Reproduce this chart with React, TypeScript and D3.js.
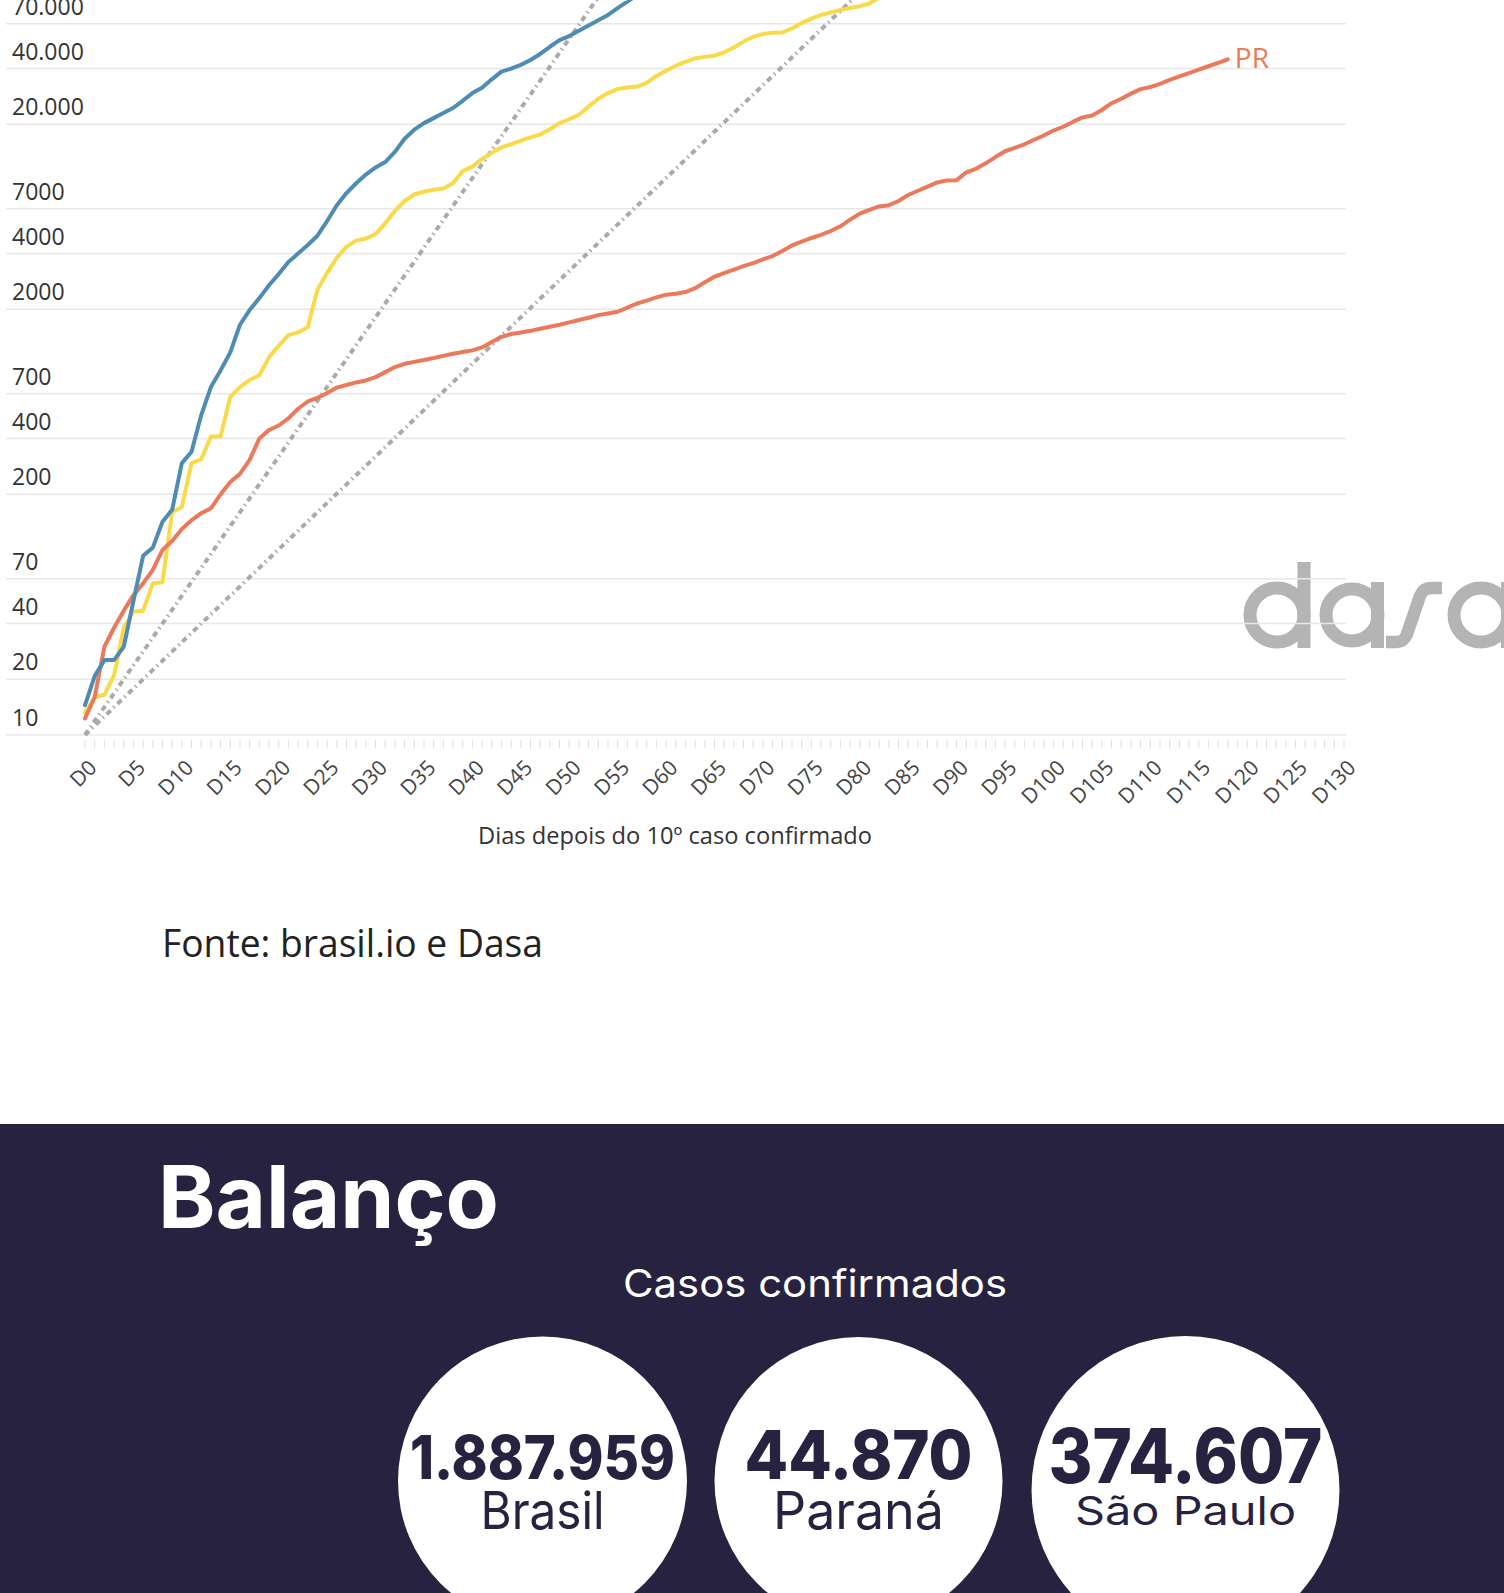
import { useEffect, useRef } from 'react';
import * as d3 from 'd3';

const W = 1504;
const H = 1593;

// eixo Y (log) e eixo X
const yTickValues = [10, 20, 40, 70, 200, 400, 700, 2000, 4000, 7000, 20000, 40000, 70000];
const yTickLabels = ['10', '20', '40', '70', '200', '400', '700', '2000', '4000', '7000', '20.000', '40.000', '70.000'];
const xTickDays = [0, 5, 10, 15, 20, 25, 30, 35, 40, 45, 50, 55, 60, 65, 70, 75, 80, 85, 90, 95, 100, 105, 110, 115, 120, 125, 130];
const xTickLabels = ['D0', 'D5', 'D10', 'D15', 'D20', 'D25', 'D30', 'D35', 'D40', 'D45', 'D50', 'D55', 'D60', 'D65', 'D70', 'D75', 'D80', 'D85', 'D90', 'D95', 'D100', 'D105', 'D110', 'D115', 'D120', 'D125', 'D130'];

// casos acumulados por dia (D0, D1, ...)
const prValues = [
  12.3, 16, 30, 38, 47, 57, 66, 78, 100, 112,
  130, 145, 158, 168, 200, 233, 258, 307, 400, 445,
  471, 515, 580, 635, 665, 705, 755, 780, 805, 825,
  860, 915, 975, 1015, 1040, 1065, 1090, 1120, 1150, 1175,
  1200, 1245, 1330, 1420, 1470, 1500, 1530, 1570, 1610, 1650,
  1700, 1750, 1800, 1860, 1900, 1940, 2040, 2150, 2230, 2320,
  2400, 2430, 2480, 2600, 2800, 3000, 3140, 3280, 3420, 3550,
  3720, 3880, 4130, 4430, 4650, 4860, 5050, 5300, 5620, 6100,
  6580, 6900, 7200, 7300, 7700, 8300, 8750, 9200, 9700, 9950,
  9980, 11000, 11500, 12300, 13300, 14300, 14900, 15600, 16500, 17400,
  18500, 19400, 20600, 21800, 22300, 23900, 26000, 27500, 29300, 31000,
  31800, 33100, 34800, 36300, 37800, 39500, 41200, 43000, 44870,
];
const blueValues = [
  14.5, 20.8, 25.4, 25.4, 30, 53, 93, 103, 142, 165,
  295, 340, 536, 760, 935, 1170, 1650, 1980, 2300, 2700,
  3100, 3600, 4000, 4450, 5000, 6000, 7300, 8500, 9600, 10700,
  11700, 12500, 14200, 16700, 18700, 20300, 21600, 23000, 24500, 26800,
  29500, 31500, 35000, 38500, 40000, 41900, 44500, 48000, 52500, 57000,
  60000, 64000, 68500, 73000, 78000, 85000, 92000, 100000, 108000,
];
const yellowValues = [
  13.2, 16, 16.5, 21, 38, 46.5, 47, 66, 67, 160,
  171, 295, 310, 411, 411, 673, 760, 830, 880, 1100,
  1270, 1450, 1500, 1600, 2550, 3150, 3800, 4350, 4700, 4830,
  5100, 5830, 6800, 7700, 8350, 8650, 8850, 9000, 9600, 11200,
  11800, 13000, 14000, 15000, 15600, 16300, 17000, 17600, 18800, 20300,
  21300, 22500, 25000, 27500, 29500, 31000, 31600, 32000, 33500, 36500,
  39000, 41500, 43500, 45500, 46300, 47000, 49000, 52000, 56000, 59500,
  61500, 62500, 62800, 66000, 70500, 74500, 78000, 80500, 83000, 85000,
  87000, 90000, 97000, 104000,
];

// linhas de referência (duplica a cada 4 e a cada 6 dias)
const ref4Days = [0, 56];
const ref4Values = [10, 164000];
const ref6Days = [0, 84];
const ref6Values = [10, 164000];

// balanço
const balancoNumbers = ['1.887.959', '44.870', '374.607'];
const balancoNames = ['Brasil', 'Paraná', 'São Paulo'];

const BLUE = '#4e8cb3';
const YELLOW = '#f9da4a';
const ORANGE = '#ea7a5b';
const NAVY = '#27223f';
const LOGO = '#b4b4b4';
const CHART_FONT = '"Open Sans", sans-serif';
const PANEL_FONT = 'Inter, sans-serif';

const App = () => {
  const svgRef = useRef<SVGSVGElement | null>(null);

  useEffect(() => {
    const svg = d3.select(svgRef.current);
    svg.selectAll('*').remove();

    const x = d3.scaleLinear().domain([0, 130]).range([85, 1344]);
    const y = d3.scaleLog().domain([10, 100000]).range([735, -5]);

    svg.append('rect').attr('width', W).attr('height', H).attr('fill', '#fff');

    // logo dasa (marca d'água, fica por baixo da grade)
    const logo = svg.append('g').attr('fill', 'none').attr('stroke', LOGO).attr('stroke-width', 13);
    logo.append('circle').attr('cx', 1277).attr('cy', 615).attr('r', 27);
    logo.append('rect').attr('x', 1297.5).attr('y', 562).attr('width', 13).attr('height', 86)
      .attr('fill', LOGO).attr('stroke', 'none');
    logo.append('circle').attr('cx', 1352).attr('cy', 615).attr('r', 26);
    logo.append('rect').attr('x', 1371).attr('y', 582).attr('width', 13).attr('height', 66)
      .attr('fill', LOGO).attr('stroke', 'none');
    logo.append('path').attr('stroke-width', 12.5)
      .attr('d', 'M1386,642 L1397,642 C1403,642 1405,639 1407,634 L1420,596 C1422,591 1425,588 1431,588 L1442,588');
    logo.append('circle').attr('cx', 1481).attr('cy', 615).attr('r', 27);
    logo.append('rect').attr('x', 1501).attr('y', 582).attr('width', 13).attr('height', 66)
      .attr('fill', LOGO).attr('stroke', 'none');

    // grade
    const grid = svg.append('g');
    yTickValues.forEach((v, i) => {
      grid.append('line')
        .attr('x1', 6).attr('x2', 1346)
        .attr('y1', y(v)).attr('y2', y(v))
        .attr('stroke', '#e8e8e8').attr('stroke-width', 1.5);
      grid.append('text')
        .attr('x', 12).attr('y', y(v) - 9)
        .attr('font-family', CHART_FONT).attr('font-size', 23)
        .attr('fill', '#333')
        .text(yTickLabels[i]);
    });

    // ticks diários
    const ticks = svg.append('g');
    d3.range(0, 131).forEach(d => {
      ticks.append('line')
        .attr('x1', x(d)).attr('x2', x(d))
        .attr('y1', 740).attr('y2', 748)
        .attr('stroke', '#dedede').attr('stroke-width', 1);
    });
    xTickDays.forEach((d, i) => {
      svg.append('text')
        .attr('transform', `translate(${x(d) + 13},769) rotate(-45)`)
        .attr('text-anchor', 'end')
        .attr('font-family', CHART_FONT).attr('font-size', 21)
        .attr('fill', '#444')
        .text(xTickLabels[i]);
    });

    svg.append('text')
      .attr('x', 675).attr('y', 844)
      .attr('text-anchor', 'middle')
      .attr('font-family', CHART_FONT).attr('font-size', 23)
      .attr('textLength', 394).attr('lengthAdjust', 'spacingAndGlyphs')
      .attr('fill', '#333')
      .text('Dias depois do 10º caso confirmado');

    // linhas de referência
    const refLine = d3.line<[number, number]>().x(p => x(p[0])).y(p => y(p[1]));
    [[ref4Days, ref4Values], [ref6Days, ref6Values]].forEach(([days, vals]) => {
      svg.append('path')
        .attr('d', refLine(d3.zip(days, vals) as [number, number][]))
        .attr('fill', 'none')
        .attr('stroke', '#aaaaaa')
        .attr('stroke-width', 4)
        .attr('stroke-dasharray', '5.5 4 1.5 4');
    });

    // séries
    const line = d3.line<number>().x((_, i) => x(i)).y(v => y(v));
    const series: [number[], string][] = [[yellowValues, YELLOW], [prValues, ORANGE], [blueValues, BLUE]];
    series.forEach(([vals, color]) => {
      svg.append('path')
        .attr('d', line(vals))
        .attr('fill', 'none')
        .attr('stroke', color)
        .attr('stroke-width', 4)
        .attr('stroke-linejoin', 'round')
        .attr('stroke-linecap', 'round');
    });

    const last = prValues.length - 1;
    svg.append('text')
      .attr('x', x(last) + 7).attr('y', y(prValues[last]) + 9)
      .attr('font-family', CHART_FONT).attr('font-size', 28)
      .attr('fill', ORANGE)
      .text('PR');

    svg.append('text')
      .attr('x', 162).attr('y', 957)
      .attr('font-family', CHART_FONT).attr('font-size', 38)
      .attr('textLength', 381).attr('lengthAdjust', 'spacingAndGlyphs')
      .attr('fill', '#222')
      .text('Fonte: brasil.io e Dasa');

    // painel balanço
    svg.append('rect').attr('x', 0).attr('y', 1124).attr('width', W).attr('height', H - 1124).attr('fill', NAVY);

    svg.append('text')
      .attr('x', 158).attr('y', 1228)
      .attr('font-family', PANEL_FONT).attr('font-weight', 700).attr('font-size', 86)
      .attr('textLength', 341).attr('lengthAdjust', 'spacingAndGlyphs')
      .attr('fill', '#fff')
      .text('Balanço');

    svg.append('text')
      .attr('x', 815).attr('y', 1297)
      .attr('text-anchor', 'middle')
      .attr('font-family', PANEL_FONT).attr('font-size', 38)
      .attr('textLength', 384).attr('lengthAdjust', 'spacingAndGlyphs')
      .attr('fill', '#fff')
      .text('Casos confirmados');

    const circles = [
      { cx: 542.5, cy: 1481, r: 144.5, numY: 1479, numSize: 60, numW: 265, nameY: 1529, nameSize: 52, nameW: 124 },
      { cx: 858.5, cy: 1481, r: 144, numY: 1479, numSize: 68, numW: 228, nameY: 1529, nameSize: 52, nameW: 171 },
      { cx: 1185.5, cy: 1490, r: 154, numY: 1483, numSize: 76, numW: 274, nameY: 1525, nameSize: 40, nameW: 221 },
    ];
    circles.forEach((c, i) => {
      svg.append('circle').attr('cx', c.cx).attr('cy', c.cy).attr('r', c.r).attr('fill', '#fff');
      svg.append('text')
        .attr('x', c.cx).attr('y', c.numY)
        .attr('text-anchor', 'middle')
        .attr('font-family', PANEL_FONT).attr('font-weight', 800).attr('font-size', c.numSize)
        .attr('textLength', c.numW).attr('lengthAdjust', 'spacingAndGlyphs')
        .attr('fill', NAVY)
        .text(balancoNumbers[i]);
      svg.append('text')
        .attr('x', c.cx).attr('y', c.nameY)
        .attr('text-anchor', 'middle')
        .attr('font-family', PANEL_FONT).attr('font-size', c.nameSize)
        .attr('textLength', c.nameW).attr('lengthAdjust', 'spacingAndGlyphs')
        .attr('fill', NAVY)
        .text(balancoNames[i]);
    });
  }, []);

  return (
    <svg
      ref={svgRef}
      width={W}
      height={H}
      style={{ position: 'absolute', left: 0, top: 0, display: 'block' }}
    />
  );
};

export default App;
